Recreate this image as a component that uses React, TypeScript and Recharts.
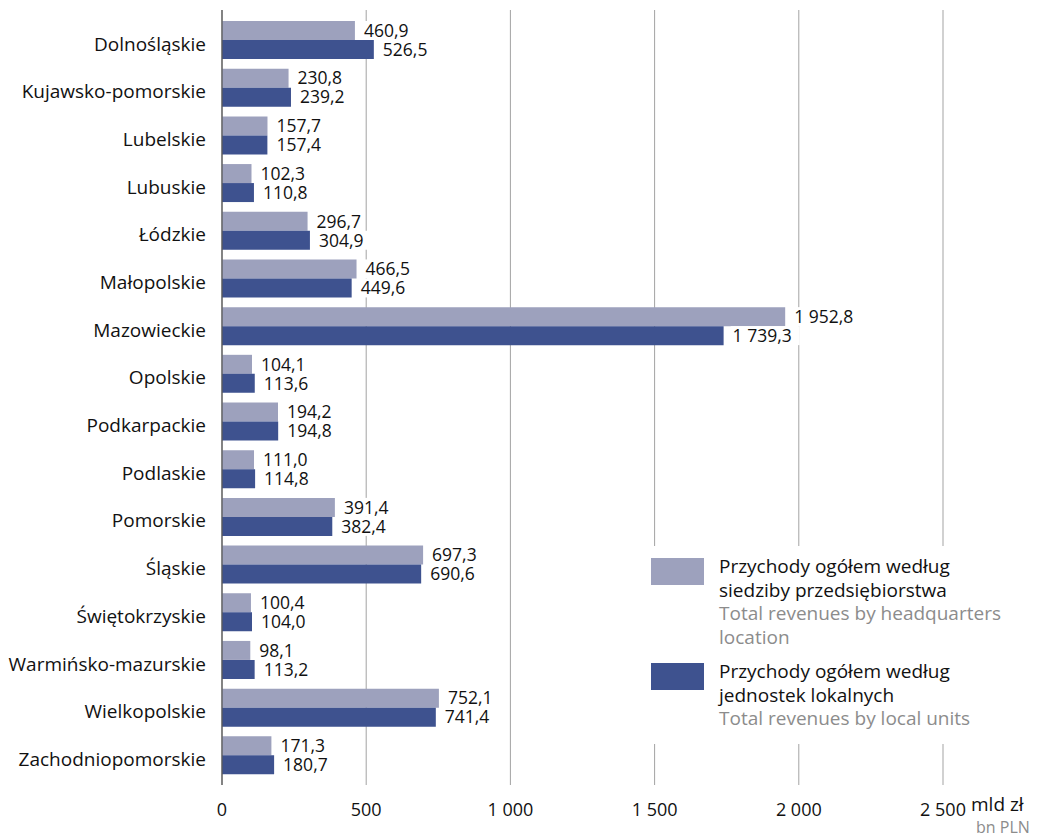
import { Bar, BarChart, CartesianGrid, LabelList, XAxis, YAxis } from 'recharts'

const voivodeships = [
  'Dolnośląskie',
  'Kujawsko-pomorskie',
  'Lubelskie',
  'Lubuskie',
  'Łódzkie',
  'Małopolskie',
  'Mazowieckie',
  'Opolskie',
  'Podkarpackie',
  'Podlaskie',
  'Pomorskie',
  'Śląskie',
  'Świętokrzyskie',
  'Warmińsko-mazurskie',
  'Wielkopolskie',
  'Zachodniopomorskie',
]

const byHeadquarters = [
  460.9, 230.8, 157.7, 102.3, 296.7, 466.5, 1952.8, 104.1, 194.2, 111.0, 391.4, 697.3, 100.4, 98.1,
  752.1, 171.3,
]

const byLocalUnits = [
  526.5, 239.2, 157.4, 110.8, 304.9, 449.6, 1739.3, 113.6, 194.8, 114.8, 382.4, 690.6, 104.0, 113.2,
  741.4, 180.7,
]

const xTicks = [0, 500, 1000, 1500, 2000, 2500]

const data = voivodeships.map((name, i) => ({
  name,
  hq: byHeadquarters[i],
  local: byLocalUnits[i],
}))

const FONT = '"Open Sans", sans-serif'
const LIGHT = '#9da1bd'
const DARK = '#3e528f'

// 1952.8 -> "1 952,8"
function fmt(v: number) {
  const [int, dec] = v.toFixed(1).split('.')
  return int.replace(/\B(?=(\d{3})+(?!\d))/g, ' ') + ',' + dec
}

function fmtTick(v: number) {
  return String(v).replace(/\B(?=(\d{3})+(?!\d))/g, ' ')
}

function ValueLabel(props: any) {
  const { x, y, width, height, value } = props
  const text = fmt(Number(value))
  const tx = x + width + 9
  const w = text.length * 9.3
  return (
    <g>
      <rect x={tx - 2} y={y} width={w + 4} height={height} fill="#fff" />
      <text
        x={tx}
        y={y + height / 2}
        dy="0.36em"
        fontSize={17.5}
        fontFamily={FONT}
        fill="#111"
      >
        {text}
      </text>
    </g>
  )
}

function LegendBox() {
  const swatch = (color: string) => ({
    position: 'absolute' as const,
    left: 651,
    width: 53,
    height: 27,
    background: color,
  })
  const txt = { fontSize: 19, lineHeight: '23.5px', margin: 0, whiteSpace: 'nowrap' as const }
  return (
    <>
      <div
        style={{
          position: 'absolute',
          left: 644,
          top: 546,
          width: 380,
          height: 198,
          background: '#fff',
        }}
      />
      <div style={{ ...swatch(LIGHT), top: 558 }} />
      <div style={{ ...swatch(DARK), top: 663 }} />
      <div style={{ position: 'absolute', left: 719, top: 555, fontFamily: FONT }}>
        <p style={{ ...txt, color: '#111' }}>Przychody ogółem według</p>
        <p style={{ ...txt, color: '#111' }}>siedziby przedsiębiorstwa</p>
        <p style={{ ...txt, color: '#8c8c8c' }}>Total revenues by headquarters</p>
        <p style={{ ...txt, color: '#8c8c8c' }}>location</p>
      </div>
      <div style={{ position: 'absolute', left: 719, top: 660, fontFamily: FONT }}>
        <p style={{ ...txt, color: '#111' }}>Przychody ogółem według</p>
        <p style={{ ...txt, color: '#111' }}>jednostek lokalnych</p>
        <p style={{ ...txt, color: '#8c8c8c' }}>Total revenues by local units</p>
      </div>
    </>
  )
}

export default function App() {
  return (
    <div style={{ position: 'absolute', left: 0, top: 0, width: 1037, height: 838, background: '#fff' }}>
      <BarChart
        width={1037}
        height={838}
        data={data}
        layout="vertical"
        margin={{ top: 10, right: 94, left: 0, bottom: 0 }}
        barGap={0}
        barSize={19}
      >
        <CartesianGrid horizontal={false} stroke="#a3a3a3" strokeWidth={1} />
        <XAxis
          type="number"
          domain={[0, 2500]}
          ticks={xTicks}
          tickFormatter={fmtTick}
          axisLine={false}
          tickLine={false}
          tickMargin={12}
          height={53}
          tick={{ fontSize: 18, fontFamily: FONT, fill: '#111' }}
        />
        <YAxis
          type="category"
          dataKey="name"
          width={222}
          padding={{ top: 6, bottom: 6 }}
          axisLine={{ stroke: '#5a5a5a', strokeWidth: 1.3 }}
          tickLine={false}
          tickMargin={10}
          interval={0}
          tick={{ fontSize: 19, fontFamily: FONT, fill: '#111', dy: 4 }}
        />
        <Bar dataKey="hq" fill={LIGHT} isAnimationActive={false}>
          <LabelList dataKey="hq" content={ValueLabel} />
        </Bar>
        <Bar dataKey="local" fill={DARK} isAnimationActive={false}>
          <LabelList dataKey="local" content={ValueLabel} />
        </Bar>
      </BarChart>
      <LegendBox />
      <div
        style={{
          position: 'absolute',
          left: 971,
          top: 791,
          fontFamily: FONT,
          fontSize: 19,
          color: '#111',
          whiteSpace: 'nowrap',
        }}
      >
        mld zł
      </div>
      <div
        style={{
          position: 'absolute',
          left: 976,
          top: 816,
          fontFamily: FONT,
          fontSize: 16,
          color: '#8c8c8c',
          whiteSpace: 'nowrap',
        }}
      >
        bn PLN
      </div>
    </div>
  )
}
